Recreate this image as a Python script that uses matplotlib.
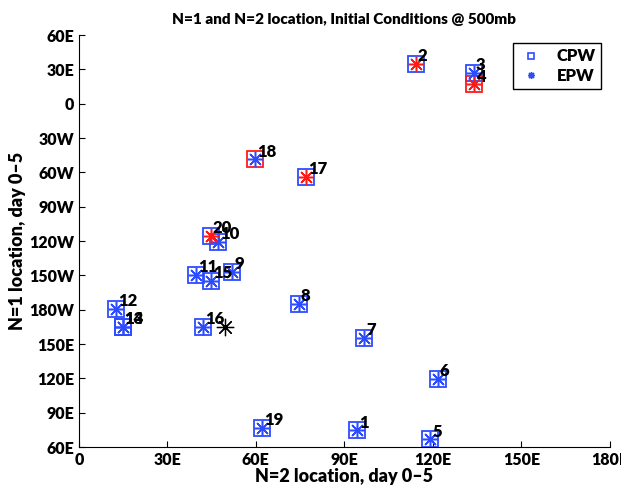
import matplotlib.pyplot as plt

plt.rcParams['font.family'] = ['Lato', 'DejaVu Sans']
plt.rcParams['font.weight'] = 'heavy'

# case numbers and N=2 / N=1 locations (y: degrees east, 60E at top down to -300 = 60E)
case_id = list(range(1, 21))
n2_loc = [94.2, 114.2, 133.9, 133.9, 119.2, 121.7, 96.8, 74.5, 52.0, 47.2,
          39.6, 12.5, 14.8, 14.8, 44.7, 42.2, 77.0, 59.7, 62.1, 44.7]
n1_loc = [-285.4, 34.7, 27.2, 17.0, -293.3, -240.2, -204.6, -174.8, -146.8, -120.5,
          -149.4, -179.5, -194.8, -194.8, -154.7, -194.8, -63.8, -48.5, -283.0, -115.4]
cpw_red = [4, 18]          # cases with red CPW square
epw_red = [2, 4, 17, 20]   # cases with red EPW star
mean_pt = (49.5, -194.8)

xticks = [0, 30, 60, 90, 120, 150, 180]
xlabels = ['0', '30E', '60E', '90E', '120E', '150E', '180E']
yticks = [60, 30, 0, -30, -60, -90, -120, -150, -180, -210, -240, -270, -300]
ylabels = ['60E', '30E', '0', '30W', '60W', '90W', '120W', '150W', '180W',
           '150E', '120E', '90E', '60E']

blue = '#2d4cff'
red = '#ff1a1a'
star = (8, 2, 0)

fig = plt.figure(figsize=(6.21, 4.91), dpi=100)
ax = fig.add_axes([0.127, 0.0896, 0.855, 0.8391])

for i, x, y in zip(case_id, n2_loc, n1_loc):
    c = red if i in cpw_red else blue
    ax.plot(x, y, 's', mfc='none', mec=c, ms=11.5, mew=1.3)
for i, x, y in zip(case_id, n2_loc, n1_loc):
    c = red if i in epw_red else blue
    ax.plot(x, y, marker=star, color=c, ms=11, mew=1.1, ls='none')
    ax.annotate(str(i), (x, y), xytext=(1.5, 5.5), textcoords='offset points',
                ha='left', va='center', fontsize=12, fontweight='heavy')

ax.plot(mean_pt[0], mean_pt[1], marker=star, color='black', ms=12.5, mew=0.9, ls='none')

# legend handles
ax.plot([], [], 's', mfc='none', mec=blue, ms=4.5, mew=1.2, label='CPW')
ax.plot([], [], marker=star, color=blue, ms=5, mew=1, ls='none', label='EPW')
ax.legend(loc='upper right', bbox_to_anchor=(0.999, 1.0), fancybox=False,
          edgecolor='black', framealpha=1, prop={'size': 12, 'weight': 'heavy'},
          handlelength=1.5, borderpad=0.3, labelspacing=0.2)

ax.set_xlim(0, 180)
ax.set_ylim(-300, 60)
ax.set_xticks(xticks)
ax.set_xticklabels(xlabels)
ax.set_yticks(yticks)
ax.set_yticklabels(ylabels)
ax.tick_params(direction='in', length=4, labelsize=11.5, width=0.8)
ax.spines['top'].set_visible(False)
ax.spines['right'].set_visible(False)

ax.set_title('N=1 and N=2 location, Initial Conditions @ 500mb', fontsize=11, fontweight='heavy', pad=8)
ax.set_xlabel('N=2 location, day 0\u20135', fontsize=13, fontweight='heavy', labelpad=0)
ax.set_ylabel('N=1 location, day 0\u20135', fontsize=13, fontweight='heavy', labelpad=2)

plt.savefig('out.png', dpi=100)
